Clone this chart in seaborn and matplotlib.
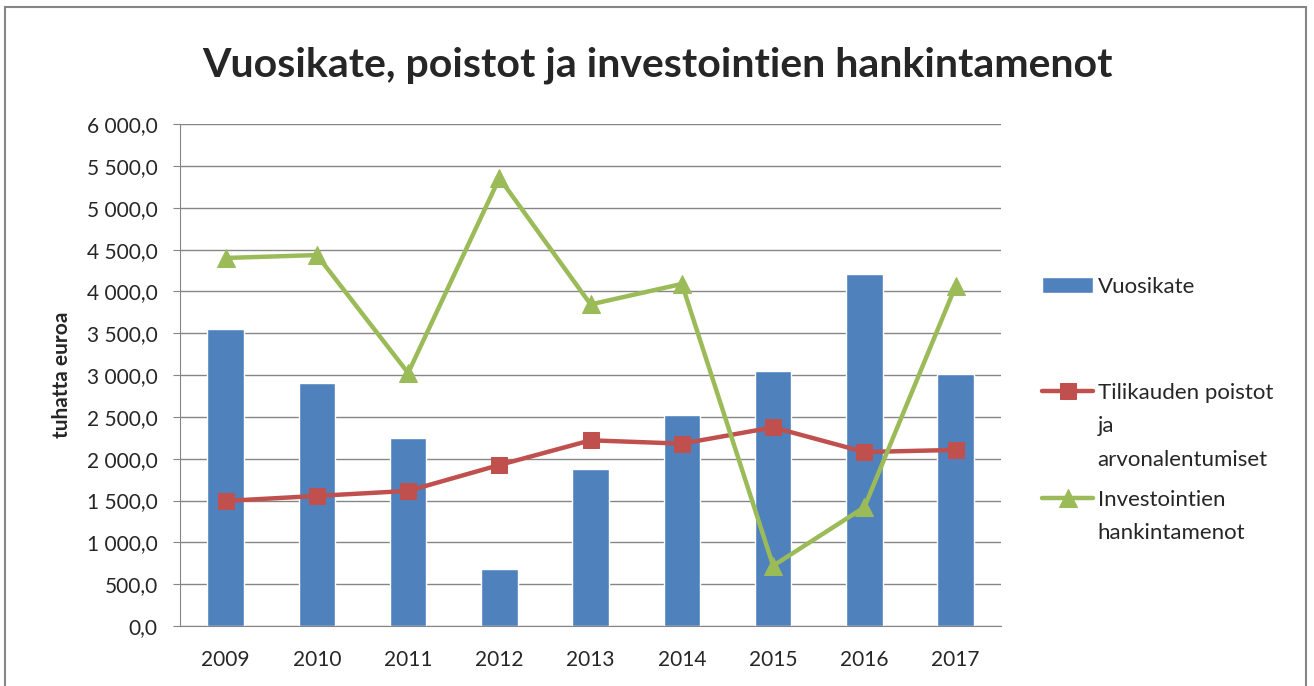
import numpy as np
import pandas as pd
import matplotlib
matplotlib.use("Agg")
import matplotlib.pyplot as plt
import seaborn as sns
from matplotlib.patches import Rectangle
from matplotlib.ticker import FuncFormatter, MultipleLocator

# -- data ------------------------------------------------------------------
years = ["2009", "2010", "2011", "2012", "2013", "2014", "2015", "2016", "2017"]
vuosikate = [3550, 2900, 2250, 680, 1875, 2520, 3045, 4205, 3010]
poistot = [1495, 1555, 1615, 1925, 2220, 2180, 2375, 2080, 2105]
investoinnit = [4400, 4435, 3025, 5355, 3845, 4090, 720, 1420, 4065]

labels = ["Vuosikate",
          "Tilikauden poistot\nja\narvonalentumiset",
          "Investointien\nhankintamenot"]

BLUE, RED, GREEN = "#4F81BD", "#C0504D", "#9BBB59"

sns.set_style("white")
plt.rcParams["font.family"] = ["Lato", "DejaVu Sans"]

fig = plt.figure(figsize=(13.14, 6.86), dpi=100)
ax = fig.add_axes([0.137, 0.0875, 0.625, 0.7315])

df = pd.DataFrame({"year": years, "vuosikate": vuosikate,
                   "poistot": poistot, "investoinnit": investoinnit})
df["pos"] = np.arange(len(years))

sns.barplot(data=df, x="year", y="vuosikate", color=BLUE, width=0.4,
            saturation=1, ax=ax, label=labels[0], zorder=2)
sns.lineplot(data=df, x="pos", y="poistot", color=RED, lw=3.2, marker="s",
             markersize=12, markeredgecolor=RED, ax=ax, label=labels[1], zorder=3)
sns.lineplot(data=df, x="pos", y="investoinnit", color=GREEN, lw=3.2, marker="^",
             markersize=13, markeredgecolor=GREEN, ax=ax, label=labels[2], zorder=3)

ax.set_xlim(-0.5, len(years) - 0.5)
ax.set_ylim(0, 6000)
ax.yaxis.set_major_locator(MultipleLocator(500))
ax.yaxis.set_major_formatter(FuncFormatter(
    lambda v, _: "{:,.1f}".format(v).replace(",", " ").replace(".", ",")))
ax.grid(axis="y", color="#868686", lw=1, zorder=0)
ax.set_axisbelow(True)
for s in ["top", "right"]:
    ax.spines[s].set_visible(False)
ax.spines["left"].set_color("#868686")
ax.spines["bottom"].set_color("#868686")
ax.tick_params(axis="y", left=True, length=5, color="#868686", labelsize=15, pad=11)
ax.tick_params(axis="x", bottom=False, labelsize=15, pad=14)
ax.set_xlabel("")
ax.set_ylabel("tuhatta euroa", fontsize=15, fontweight="bold")
ax.yaxis.set_label_coords(-0.1315, 0.5)

# legend: one entry per slot, handle beside the first line of its label
handles, found = ax.get_legend_handles_labels()
by_label = dict(zip(found, handles))
if ax.get_legend() is not None:
    ax.get_legend().remove()
slot_y = [0.582, 0.427, 0.271]   # first-line centre of each entry
line_step = 0.0485               # spacing of wrapped label lines
legends = []
for lab, yc in zip(labels, slot_y):
    first = lab.split("\n")[0]
    leg = fig.legend([by_label[lab]], [first], loc="center left",
                     bbox_to_anchor=(0.793, yc), frameon=False, fontsize=16,
                     handlelength=2.3, handletextpad=0.2, borderpad=0,
                     borderaxespad=0)
    legends.append((leg, lab, yc))

fig.canvas.draw()
inv = fig.transFigure.inverted()
for leg, lab, yc in legends:
    x0 = inv.transform(leg.get_texts()[0].get_window_extent().p0)[0]
    for i, rest in enumerate(lab.split("\n")[1:], start=1):
        fig.text(x0, yc - i * line_step, rest, ha="left", va="center",
                 fontsize=16, color=leg.get_texts()[0].get_color())

fig.text(0.5, 0.905, "Vuosikate, poistot ja investointien hankintamenot",
         ha="center", va="center", fontsize=29.5, fontweight="bold")

fig.patches.append(Rectangle((0.004, -0.01), 0.99, 1.0, transform=fig.transFigure,
                             fill=False, edgecolor="#868686", lw=1.5))

fig.savefig("out.png", dpi=100)
